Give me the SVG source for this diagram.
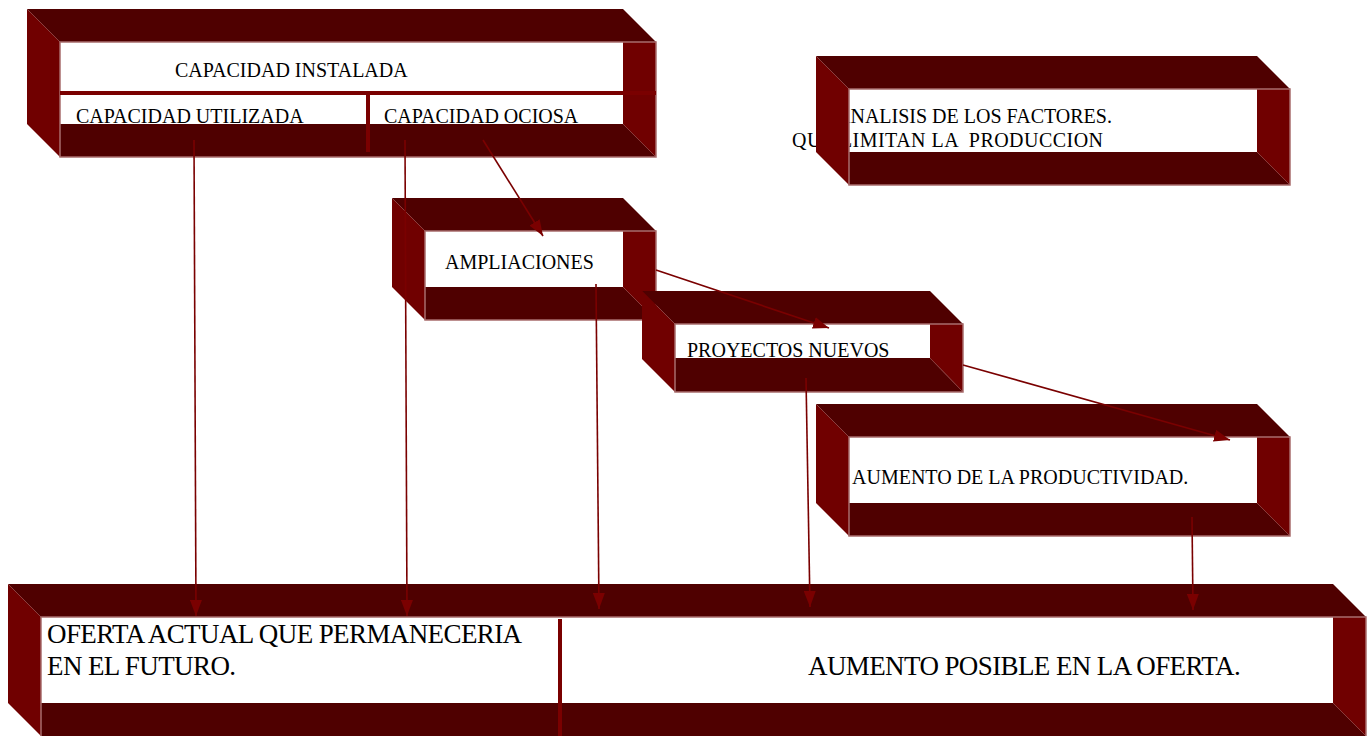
<svg xmlns="http://www.w3.org/2000/svg" width="1372" height="736" viewBox="0 0 1372 736">
  <defs>
    <marker id="arrow" markerUnits="userSpaceOnUse" markerWidth="17" markerHeight="12" refX="16" refY="6" orient="auto">
      <path d="M0,0 L16,6 L0,12 z" fill="#7a0000"/>
    </marker>
  </defs>
  <style>
    .top { fill: #4f0000; }
    .side { fill: #700000; }
    .face { fill: #ffffff; }
    .rim { fill: none; stroke: #a86c6c; stroke-width: 1.5; }
    .edge { stroke: #8a3a3a; stroke-width: 1; }
    .bar { stroke: #7a0000; stroke-width: 4; }
    .lbl { font-family: "Liberation Serif", "Times New Roman", serif; font-size: 20px; fill: #000; }
    .big { font-family: "Liberation Serif", "Times New Roman", serif; font-size: 27px; fill: #000; letter-spacing: -0.6px; }
    .link { stroke: #7a0000; stroke-width: 1.6; fill: none; marker-end: url(#arrow); }
  </style>

  <rect width="1372" height="736" fill="#ffffff"/>

  <!-- Capacidad instalada: open box, x0=27 y0=9, front 60..656 x 42..157 -->
  <g id="capacidad">
    <rect class="face" x="60" y="42" width="563" height="82"/>
    <text class="lbl" x="175" y="77">CAPACIDAD INSTALADA</text>
    <text class="lbl" x="76" y="123">CAPACIDAD UTILIZADA</text>
    <text class="lbl" x="384" y="123">CAPACIDAD OCIOSA</text>
    <polygon class="top" points="27,9 623,9 656,42 60,42"/>
    <polygon class="side" points="27,9 60,42 60,157 27,124"/>
    <polygon class="side" points="623,42 656,42 656,157 623,124"/>
    <polygon class="top" points="60,124 623,124 656,157 60,157"/>
    <line class="edge" x1="623" y1="124" x2="656" y2="157"/>
    <rect class="rim" x="60" y="42" width="596" height="115"/>
    <line class="bar" x1="60" y1="93" x2="656" y2="93"/>
    <line class="bar" x1="368" y1="93" x2="368" y2="152"/>
  </g>

  <!-- Analisis de los factores -->
  <g id="analisis">
    <rect class="face" x="849" y="89" width="408" height="63"/>
    <text class="lbl" x="836" y="123">ANALISIS DE LOS FACTORES.</text>
    <text class="lbl" x="792" y="147" xml:space="preserve" textLength="311" lengthAdjust="spacing">QUE LIMITAN LA  PRODUCCION</text>
    <polygon class="top" points="816,56 1257,56 1290,89 849,89"/>
    <polygon class="side" points="816,56 849,89 849,185 816,152"/>
    <polygon class="side" points="1257,89 1290,89 1290,185 1257,152"/>
    <polygon class="top" points="849,152 1257,152 1290,185 849,185"/>
    <line class="edge" x1="1257" y1="152" x2="1290" y2="185"/>
    <rect class="rim" x="849" y="89" width="441" height="96"/>
  </g>

  <!-- Ampliaciones -->
  <g id="ampliaciones">
    <rect class="face" x="425" y="231" width="198" height="56"/>
    <text class="lbl" x="445" y="269">AMPLIACIONES</text>
    <polygon class="top" points="392,198 623,198 656,231 425,231"/>
    <polygon class="side" points="392,198 425,231 425,320 392,287"/>
    <polygon class="side" points="623,231 656,231 656,320 623,287"/>
    <polygon class="top" points="425,287 623,287 656,320 425,320"/>
    <line class="edge" x1="623" y1="287" x2="656" y2="320"/>
    <rect class="rim" x="425" y="231" width="231" height="89"/>
  </g>

  <!-- Proyectos nuevos -->
  <g id="proyectos">
    <rect class="face" x="675" y="324" width="255" height="34"/>
    <text class="lbl" x="687" y="357">PROYECTOS NUEVOS</text>
    <polygon class="top" points="642,291 930,291 963,324 675,324"/>
    <polygon class="side" points="642,291 675,324 675,392 642,359"/>
    <polygon class="side" points="930,324 963,324 963,392 930,358"/>
    <polygon class="top" points="675,358 930,358 963,392 675,392"/>
    <line class="edge" x1="930" y1="358" x2="963" y2="392"/>
    <rect class="rim" x="675" y="324" width="288" height="68"/>
  </g>

  <!-- Aumento de la productividad -->
  <g id="productividad">
    <rect class="face" x="849" y="437" width="408" height="66"/>
    <text class="lbl" x="852" y="484">AUMENTO DE LA PRODUCTIVIDAD.</text>
    <polygon class="top" points="816,404 1257,404 1290,437 849,437"/>
    <polygon class="side" points="816,404 849,437 849,536 816,503"/>
    <polygon class="side" points="1257,437 1290,437 1290,536 1257,503"/>
    <polygon class="top" points="849,503 1257,503 1290,536 849,536"/>
    <line class="edge" x1="1257" y1="503" x2="1290" y2="536"/>
    <rect class="rim" x="849" y="437" width="441" height="99"/>
  </g>

  <!-- Oferta -->
  <g id="oferta">
    <rect class="face" x="41" y="617" width="1292" height="86"/>
    <text class="big" x="47" y="643">OFERTA ACTUAL QUE PERMANECERIA</text>
    <text class="big" x="47" y="675">EN EL FUTURO.</text>
    <text class="big" x="808" y="675">AUMENTO POSIBLE EN LA OFERTA.</text>
    <polygon class="top" points="8,584 1333,584 1366,617 41,617"/>
    <polygon class="side" points="8,584 41,617 41,736 8,703"/>
    <polygon class="side" points="1333,617 1366,617 1366,736 1333,703"/>
    <polygon class="top" points="41,703 1333,703 1366,736 41,736"/>
    <line class="edge" x1="1333" y1="703" x2="1366" y2="736"/>
    <rect class="rim" x="41" y="617" width="1325" height="125"/>
    <line class="bar" x1="560" y1="619" x2="560" y2="736"/>
  </g>

  <!-- connectors -->
  <g id="connectors">
    <line class="link" x1="194" y1="140" x2="196" y2="616"/>
    <line class="link" x1="405" y1="140" x2="407" y2="616"/>
    <line class="link" x1="483" y1="140" x2="543" y2="236"/>
    <line class="link" x1="596" y1="284" x2="599" y2="609"/>
    <line class="link" x1="656" y1="270" x2="829" y2="328"/>
    <line class="link" x1="806" y1="378" x2="810" y2="607"/>
    <line class="link" x1="963" y1="365" x2="1230" y2="440"/>
    <line class="link" x1="1192" y1="517" x2="1193" y2="610"/>
  </g>
</svg>
